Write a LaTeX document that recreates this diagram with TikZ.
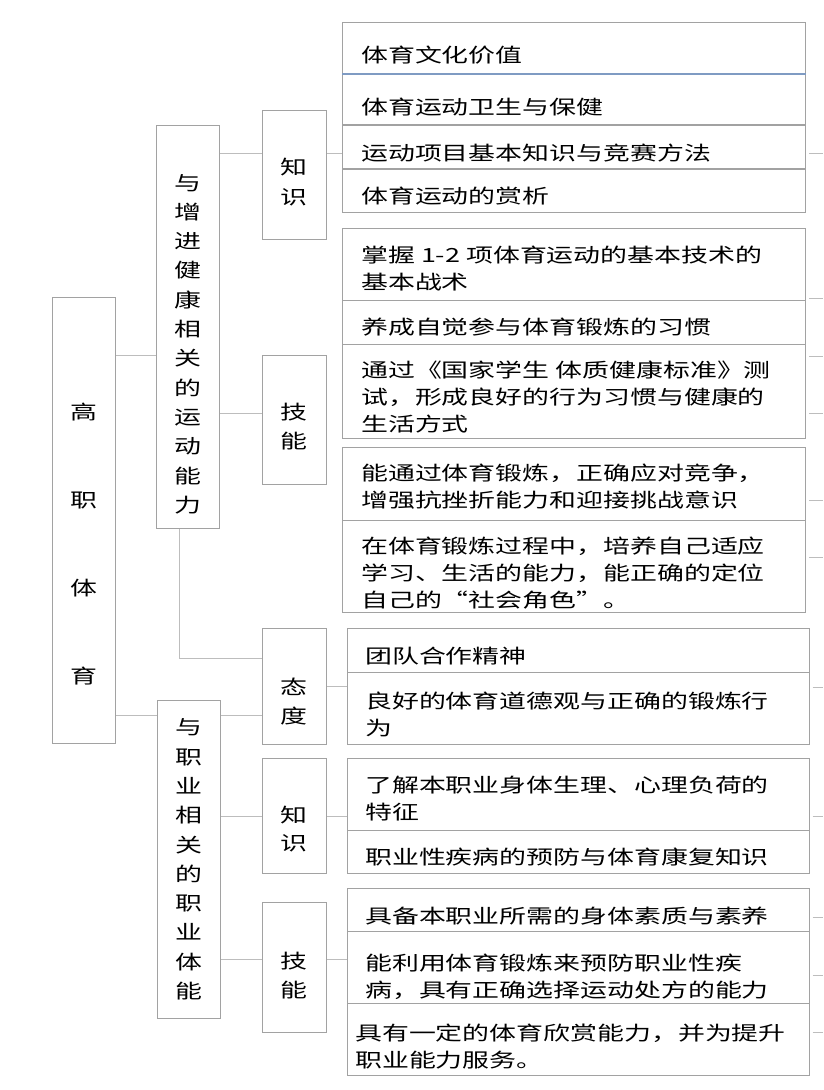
\documentclass[tikz,border=0pt]{standalone}
\usepackage{fontspec}
\usepackage{tikz}
\usetikzlibrary{positioning}
\newfontfamily\cjk[FakeStretch=1.38]{Noto Sans CJK SC}
\definecolor{boxGray}{HTML}{A2A2A2}
\definecolor{linkGray}{HTML}{BDBDBD}
\definecolor{sepBlue}{HTML}{7F9BC3}

\begin{document}
\begin{tikzpicture}[x=1pt,y=-1pt,
  box/.style={draw=boxGray, line width=1pt, inner sep=0pt, anchor=north west},
  leafA/.style={box, minimum width=463pt},
  leafB/.style={box, minimum width=462pt},
  col/.style={box, minimum width=63pt},
  cat/.style={box, minimum width=64pt},
  txt/.style={inner sep=0pt, anchor=west, align=left,
    font=\cjk\fontsize{19.5}{27}\selectfont},
  vtxt/.style={inner sep=0pt, align=center,
    font=\cjk\fontsize{19.5}{29.3}\selectfont},
  link/.style={draw=linkGray, line width=1pt}]
  \useasboundingbox (0,0) rectangle (823,1090);

  % root and the two columns
  \node[col, minimum height=446pt] (root) at (52,297) {};
  \node[col, minimum height=403pt] (heal) at (156,125) {};
  \node[col, minimum height=318pt] (job) at (157,700) {};
  \node[vtxt, font=\cjk\fontsize{19.5}{88}\selectfont] (rootT) at (84,544)
    {高\\职\\体\\育};
  \node[vtxt] (healT) at (187.5,344)
    {与\\增\\进\\健\\康\\相\\关\\的\\运\\动\\能\\力};
  \node[vtxt] (jobT) at (188.5,859.5)
    {与\\职\\业\\相\\关\\的\\职\\业\\体\\能};

  % categories
  \node[cat, minimum height=129pt] (kn1) at (262,110) {};
  \node[cat, minimum height=129pt] (sk1) at (262,355) {};
  \node[cat, minimum height=116pt] (att) at (262,628) {};
  \node[cat, minimum height=115pt] (kn2) at (262,758) {};
  \node[cat, minimum height=130pt] (sk2) at (262,902) {};
  \node[vtxt, font=\cjk\fontsize{19.5}{30}\selectfont] (kn1T) at (294,182) {知\\识};
  \node[vtxt] (sk1T) at (294,426.5) {技\\能};
  \node[vtxt] (attT) at (294,701.5) {态\\度};
  \node[vtxt, font=\cjk\fontsize{19.5}{28}\selectfont] (kn2T) at (294,829) {知\\识};
  \node[vtxt] (sk2T) at (294,975.5) {技\\能};

  % leaves
  \node[leafA, minimum height=51pt] (k1) at (342,22) {};
  \node[leafA, minimum height=51pt] (k2) at (342,73) {};
  \node[leafA, minimum height=43pt] (k3) at (342,125) {};
  \node[leafA, minimum height=43pt] (k4) at (342,169) {};
  \node[leafA, minimum height=72pt] (k5) at (342,228) {};
  \node[leafA, minimum height=44pt] (k6) at (342,300) {};
  \node[leafA, minimum height=94pt] (k7) at (342,344) {};
  \node[leafA, minimum height=73pt] (k8) at (342,447) {};
  \node[leafA, minimum height=92pt] (k9) at (342,520) {};
  \node[leafB, minimum height=44pt] (k10) at (346.5,628) {};
  \node[leafB, minimum height=72pt] (k11) at (346.5,672) {};
  \node[leafB, minimum height=72pt] (k12) at (346.5,758) {};
  \node[leafB, minimum height=43pt] (k13) at (346.5,830) {};
  \node[leafB, minimum height=43pt] (k14) at (346.5,888) {};
  \node[leafB, minimum height=72pt] (k15) at (346.5,931) {};
  \node[leafB, minimum height=72pt] (k16) at (346.5,1003) {};
  \draw[sepBlue, line width=2pt] (k1.south west) -- (k1.south east);

  \node[txt] (t1) at (361,55) {体育文化价值};
  \node[txt] (t2) at (361,107) {体育运动卫生与保健};
  \node[txt] (t3) at (361,153) {运动项目基本知识与竞赛方法};
  \node[txt] (t4) at (361,196) {体育运动的赏析};
  \node[txt] (t5) at (361,269) {掌握 1-2 项体育运动的基本技术的\\基本战术};
  \node[txt] (t6) at (361,327) {养成自觉参与体育锻炼的习惯};
  \node[txt] (t7) at (361,397)
    {通过《国家学生 体质健康标准》测\\试，形成良好的行为习惯与健康的\\生活方式};
  \node[txt] (t8) at (361,486.5)
    {能通过体育锻炼，正确应对竞争，\\增强抗挫折能力和迎接挑战意识};
  \node[txt] (t9) at (361,573)
    {在体育锻炼过程中，培养自己适应\\学习、生活的能力，能正确的定位\\自己的“社会角色”。};
  \node[txt] (t10) at (365,656) {团队合作精神};
  \node[txt] (t11) at (365,714) {良好的体育道德观与正确的锻炼行\\为};
  \node[txt] (t12) at (365,799) {了解本职业身体生理、心理负荷的\\特征};
  \node[txt] (t13) at (365,857) {职业性疾病的预防与体育康复知识};
  \node[txt] (t14) at (365,916) {具备本职业所需的身体素质与素养};
  \node[txt] (t15) at (365,976.5)
    {能利用体育锻炼来预防职业性疾\\病，具有正确选择运动处方的能力};
  \node[txt] (t16) at (355,1046.5)
    {具有一定的体育欣赏能力，并为提升\\职业能力服务。};

  % connectors
  \draw[link] (root.east |- 0,355) -- (heal.west |- 0,355);
  \draw[link] (root.east |- 0,715) -- (job.west |- 0,715);
  \draw[link] (job.east |- 0,715) -- (att.west |- 0,715);
  \draw[link] (heal.east |- 0,153) -- (kn1.west |- 0,153);
  \draw[link] (kn1.east |- 0,153) -- (k3.west |- 0,153);
  \draw[link] (heal.east |- 0,413) -- (sk1.west |- 0,413);
  \draw[link] ([xshift=-9pt]heal.south) |- (att.west |- 0,658);
  \draw[link] (att.east |- 0,686) -- (k11.west |- 0,686);
  \draw[link] (job.east |- 0,816) -- (kn2.west |- 0,816);
  \draw[link] (kn2.east |- 0,816) -- (k12.west |- 0,816);
  \draw[link] (job.east |- 0,959) -- (sk2.west |- 0,959);
  \draw[link] (sk2.east |- 0,959) -- (k15.west |- 0,959);

  % cut-off stubs at the right edge
  \coordinate (edge) at (823,0);
  \foreach \n/\y in {k3/153,k5/298,k7/356,k7/413,k8/500,k9/557,
                     k11/687,k12/816,k14/917,k15/975,k16/1032}
    \draw[link] ([xshift=3pt]\n.east |- 0,\y) -- (edge |- 0,\y);
\end{tikzpicture}
\end{document}
